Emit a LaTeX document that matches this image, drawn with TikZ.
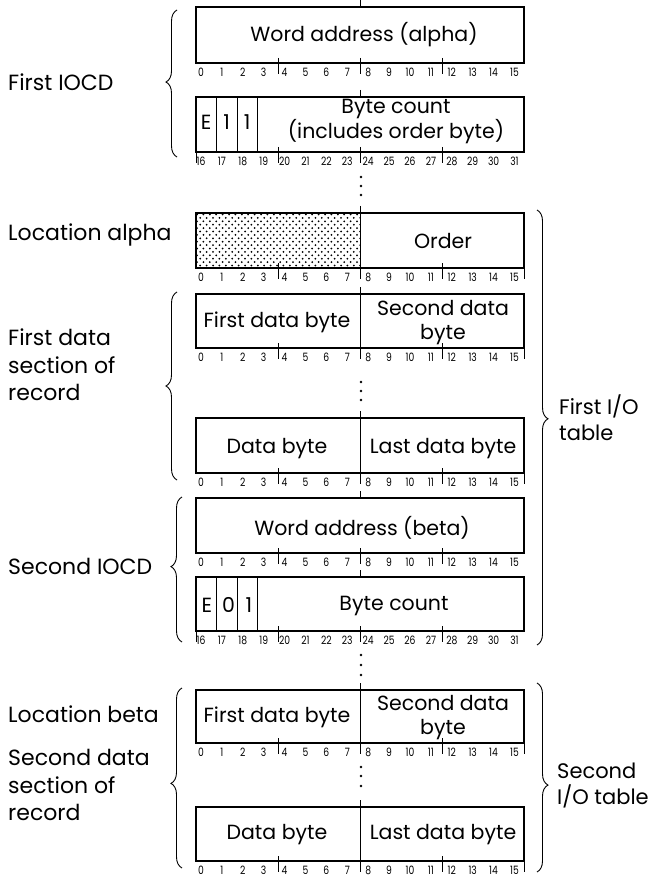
\documentclass[tikz,border=0pt]{standalone}
\usepackage{fontspec}
\setmainfont{Poppins}
\newfontfamily\bitfont[FakeStretch=0.8]{Poppins}
\usetikzlibrary{decorations.pathreplacing}

\begin{document}
\begin{tikzpicture}[x=1pt,y=-1pt,
  frame/.style={line width=1.2pt},
  thin/.style={line width=.7pt},
  bitnum/.style={font=\bitfont\fontsize{11.5}{11.5}\selectfont,inner sep=0pt},
  txt/.style={font=\fontsize{20.5}{22}\selectfont,inner sep=0pt,align=center},
  lbl/.style={font=\fontsize{22}{27.5}\selectfont,inner sep=0pt,align=left,anchor=west},
  brc/.style={decorate,decoration={brace,amplitude=11pt,aspect=#1},line width=.9pt}]
 \useasboundingbox (0,0) rectangle (664,877);
 % stippled left half of location alpha
 \begin{scope}
  \clip (196,213) rectangle (360,268);
  \foreach \r [evaluate=\r as \s using {3.2*mod(\r,2)}] in {0,...,16}
   \foreach \c in {0,...,26}
    \fill (197+6.4*\c+\s,214.5+3.4*\r) circle (1);
 \end{scope}
 % the nine words
 \foreach \t/\b/\off in {7/63/0,97/152/16,213/268/0,294/348/0,418/473/0,
   498/553/0,577/631/16,690/743/0,807/861/0} {
  \draw[frame] (196,\t) rectangle (524,\b);
  \draw[thin] (360,\t-7) -- (360,\t);
  \foreach \k in {278,360,442} \draw[thin] (\k,\b-5) -- (\k,\b+11);
  \foreach \i [evaluate=\i as \n using {int(\i+\off)}] in {0,...,15}
   \node[bitnum] (n\t-\i) at (201+20.9*\i,\b+9) {\n};
 }
 % half-word dividers and trailing bars
 \foreach \t/\b in {213/268,294/348,418/473,690/743,807/861} {
  \draw[thin] (360,\t) -- (360,\b);
  \draw[thin] (524,\b) -- (524,\b+11);
 }
 \foreach \t/\b in {97/152,577/631} {
  \foreach \k in {216.5,237,257.5} \draw[thin] (\k,\t) -- (\k,\b);
  \draw[thin] (196,\b) -- (196,\b+11);
 }
 % vertical ellipses
 \foreach \y in {177,186,195,382,391,400,655,665,675,767,776,786}
  \fill (361,\y) circle (1.3);
 % word contents
 \node[txt] (wa1) at (364,35) {Word address (alpha)};
 \node[txt] (e1) at (206.25,122) {E};
 \node[txt] (f1) at (226.75,122) {1};
 \node[txt] (g1) at (247.25,122) {1};
 \node[txt,font=\fontsize{20.5}{21}\selectfont] (bc1) at (396,121.5) {Byte count\\(includes order byte)};
 \node[txt] (ord) at (443,241) {Order};
 \node[txt] (fd1) at (277,322) {First data byte};
 \node[txt,font=\fontsize{20.5}{24}\selectfont] (sd1) at (443,323) {Second data\\byte};
 \node[txt] (db1) at (277,449) {Data byte};
 \node[txt] (ld1) at (443,449) {Last data byte};
 \node[txt] (wa2) at (362,528) {Word address (beta)};
 \node[txt] (e2) at (207,605) {E};
 \node[txt] (f2) at (228.5,605) {0};
 \node[txt] (g2) at (249,605) {1};
 \node[txt] (bc2) at (394,606) {Byte count};
 \node[txt] (fd2) at (277,717) {First data byte};
 \node[txt,font=\fontsize{20.5}{24}\selectfont] (sd2) at (443,718) {Second data\\byte};
 \node[txt] (db2) at (277,835) {Data byte};
 \node[txt] (ld2) at (443,835) {Last data byte};
 % left braces and labels
 \draw[brc=.51] (177,157) -- (177,10);
 \draw[brc=.5] (177,480) -- (177,292);
 \draw[brc=.52] (182,642) -- (182,497);
 \draw[brc=.47] (182,868) -- (182,688);
 \node[lbl] (iocd1) at (8,82) {First IOCD};
 \node[lbl] (loca) at (8,235) {Location alpha};
 \node[lbl] (sec1) at (8,365) {First data\\section of\\record};
 \node[lbl] (iocd2) at (8,566) {Second IOCD};
 \node[lbl] (locb) at (8,714) {Location beta};
 \node[lbl] (sec2) at (8,785) {Second data\\section of\\record};
 % right braces and labels
 \draw[brc=.48] (537,210) -- (537,645);
 \draw[brc=.54] (537,683) -- (537,872);
 \node[lbl,font=\fontsize{21}{26}\selectfont] (tab1) at (559,418) {First I/O\\table};
 \node[lbl,font=\fontsize{21}{26}\selectfont] (tab2) at (557,786) {Second\\I/O table};
\end{tikzpicture}
\end{document}
